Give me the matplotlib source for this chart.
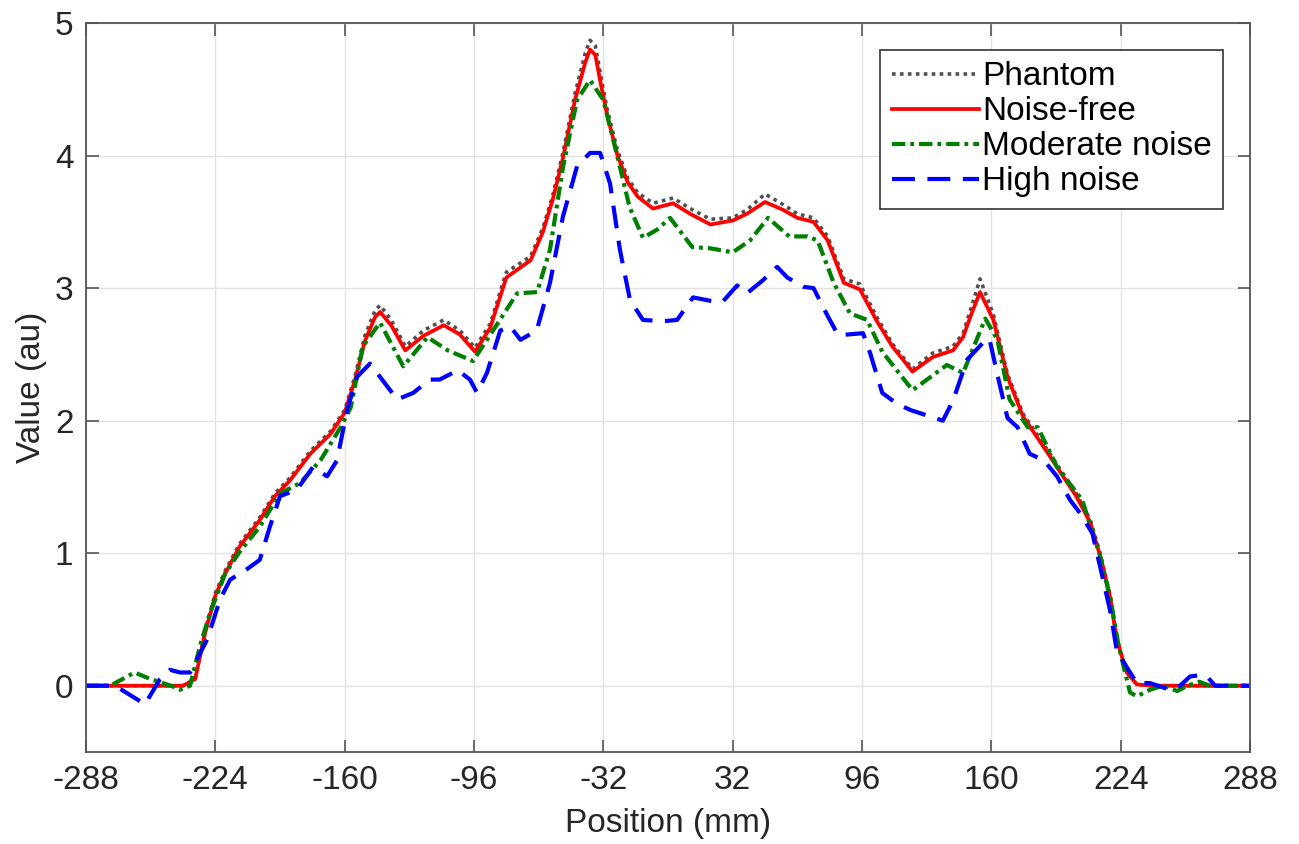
import matplotlib
matplotlib.use("Agg")
import matplotlib.pyplot as plt

plt.rcParams['font.family'] = ['Liberation Sans', 'DejaVu Sans']

# Noise-free reconstruction (also the x grid for the phantom)
x_free = [-288, -240, -234, -229, -224, -219, -212, -202, -194.5, -187, -177, -167,
          -160, -155, -150, -145, -142.5, -137, -130, -121, -111, -103, -95.5, -88,
          -80, -68, -62, -57, -52, -46, -41, -38.6, -36, -33, -30, -25, -20, -15, -7.4,
          2.5, 11, 21, 32, 39, 48, 57, 64, 72, 79, 87, 95, 103, 111, 121, 131, 141, 146,
          150, 154.4, 161, 168, 175.7, 178, 189, 202, 209, 214, 219, 222, 227, 232, 240, 288]
y_free = [0, 0, 0.05, 0.4, 0.68, 0.85, 1.05, 1.25, 1.43, 1.55, 1.75, 1.9,
          2.06, 2.3, 2.6, 2.78, 2.82, 2.72, 2.53, 2.64, 2.72, 2.65, 2.52, 2.7,
          3.08, 3.21, 3.42, 3.67, 3.98, 4.42, 4.7, 4.8, 4.76, 4.52, 4.3, 4.0, 3.8, 3.69, 3.6,
          3.64, 3.56, 3.48, 3.51, 3.56, 3.65, 3.59, 3.53, 3.5, 3.36, 3.04, 2.99, 2.76, 2.56, 2.37, 2.48, 2.53, 2.63,
          2.8, 2.97, 2.76, 2.33, 2.03, 1.98, 1.73, 1.43, 1.23, 0.97, 0.65, 0.35, 0.1, 0.01, 0, 0]
y_phantom = [0, 0, 0.05, 0.42, 0.7, 0.87, 1.07, 1.27, 1.45, 1.57, 1.77, 1.92,
             2.08, 2.33, 2.64, 2.83, 2.87, 2.76, 2.56, 2.68, 2.76, 2.68, 2.55, 2.73,
             3.12, 3.24, 3.45, 3.7, 4.02, 4.47, 4.77, 4.87, 4.83, 4.58, 4.34, 4.04, 3.83, 3.72, 3.64,
             3.68, 3.6, 3.52, 3.53, 3.59, 3.71, 3.63, 3.56, 3.53, 3.39, 3.07, 3.03, 2.79, 2.58, 2.39, 2.51, 2.56, 2.66,
             2.85, 3.07, 2.8, 2.35, 2.05, 2.0, 1.75, 1.45, 1.25, 0.99, 0.67, 0.36, 0.1, 0.01, 0, 0]

# Moderate noise
x_mod = [-288, -276, -264, -256, -246, -241.5, -236.5, -231.6, -226.6, -219, -212, -202,
         -192, -182, -172, -162, -157, -151, -142.5, -131, -119, -109, -96.5, -86.6,
         -74.7, -64.8, -58.4, -52, -45, -38.6, -32, -25, -19, -12.4, -5.5, 1, 12, 21,
         32, 40.6, 49.5, 60, 69, 74, 82, 90, 98.5, 106, 121, 138, 146, 157, 163, 169,
         178, 183, 192.5, 205, 214, 219, 223, 228.6, 232, 238.5, 245, 252, 257, 263, 268, 288]
y_mod = [0, 0, 0.1, 0.05, 0.0, -0.03, 0.0, 0.3, 0.55, 0.85, 1.01, 1.2,
         1.45, 1.53, 1.7, 1.95, 2.1, 2.56, 2.74, 2.41, 2.63, 2.53, 2.45, 2.68,
         2.96, 2.97, 3.29, 3.91, 4.42, 4.57, 4.42, 3.99, 3.61, 3.38, 3.44, 3.53, 3.31, 3.3,
         3.27, 3.36, 3.53, 3.39, 3.39, 3.36, 3.04, 2.81, 2.76, 2.52, 2.23, 2.42, 2.36, 2.77, 2.61, 2.16,
         1.95, 1.95, 1.65, 1.4, 0.97, 0.65, 0.3, -0.05, -0.08, -0.03, 0.0, -0.04, 0.0, 0.03, 0, 0]

# High noise
x_high = [-288, -273.6, -258.8, -251.4, -246.4, -241.5, -236.5, -228, -221.7, -216.7, -208.3,
          -202, -197, -192, -183.6, -175.7, -168.7, -163.8, -158.8, -153.9, -147.5, -142.5,
          -134, -126, -118, -113, -104, -98, -94.5, -89.6, -83, -78, -73, -65, -58.4, -52,
          -45, -38.6, -33.6, -28.7, -23.8, -18.8, -12.4, -2.5, 4.5, 12.4, 22.3, 27.2, 34.2,
          39, 47, 54, 59, 67, 72, 79, 84, 89, 96.5, 100, 106, 113, 120, 130, 136, 141, 148,
          156, 159, 164, 168, 173, 179, 186, 192.5, 199, 204, 210, 215, 219, 222, 227, 232,
          238.5, 248.4, 253.4, 258.3, 263.3, 266.7, 270.7, 288]
y_high = [0, 0, -0.14, 0.05, 0.12, 0.1, 0.1, 0.35, 0.65, 0.8, 0.88,
          0.95, 1.2, 1.43, 1.48, 1.65, 1.58, 1.7, 2.08, 2.33, 2.43, 2.33,
          2.16, 2.21, 2.31, 2.31, 2.38, 2.31, 2.21, 2.36, 2.68, 2.71, 2.61, 2.68, 3.04, 3.54,
          3.92, 4.02, 4.02, 3.79, 3.29, 2.91, 2.76, 2.75, 2.76, 2.93, 2.9, 2.9, 3.02,
          2.96, 3.06, 3.16, 3.08, 3.01, 3.0, 2.79, 2.65, 2.65, 2.66, 2.51, 2.21, 2.13, 2.08, 2.03, 2.0, 2.15, 2.46,
          2.59, 2.62, 2.28, 2.02, 1.95, 1.75, 1.7, 1.58, 1.4, 1.3, 1.15, 0.82, 0.55, 0.27, 0.14, 0.02,
          0.02, -0.03, 0.0, 0.07, 0.08, 0.07, 0.0, 0]

xticks = list(range(-288, 289, 64))
yticks = [0, 1, 2, 3, 4, 5]

fig = plt.figure(figsize=(12.99, 8.44), dpi=100)
ax = fig.add_axes([0.0662, 0.109, 0.8961, 0.8637])

ax.plot(x_free, y_phantom, color='#505050', lw=2.6, linestyle=(0, (1, 1.2)), label='Phantom')
ax.plot(x_free, y_free, color='#ff0000', lw=2.7, label='Noise-free')
ax.plot(x_mod, y_mod, color='#008000', lw=3.0, linestyle=(0, (3.2, 1.2, 0.9, 1.2)), label='Moderate noise')
ax.plot(x_high, y_high, color='#0000ff', lw=3.0, linestyle=(0, (5.5, 3.0)), label='High noise')

ax.set_xlim(-288, 288)
ax.set_ylim(-0.5, 5)
ax.set_xticks(xticks)
ax.set_xticklabels([str(t) for t in xticks])
ax.set_yticks(yticks)
ax.grid(True, color='#e3e3e3', lw=1.0)
ax.set_axisbelow(True)

for s in ax.spines.values():
    s.set_color('#555555')
    s.set_linewidth(1.3)
ax.tick_params(direction='in', length=9, width=1.2, color='#555555',
               top=True, right=True, labelsize=24, labelcolor='#262626', pad=9)

ax.set_xlabel('Position (mm)', fontsize=24, color='#262626', labelpad=9)
ax.set_ylabel('Value (au)', fontsize=24, color='#262626', labelpad=6)

leg = ax.legend(loc='upper right', fontsize=24, handlelength=2.6, handletextpad=0.1,
                labelspacing=0.12, borderpad=0.35, borderaxespad=0.8, fancybox=False,
                framealpha=1.0, edgecolor='#333333')
leg.get_frame().set_linewidth(1.2)

fig.savefig('out.png', dpi=100)
